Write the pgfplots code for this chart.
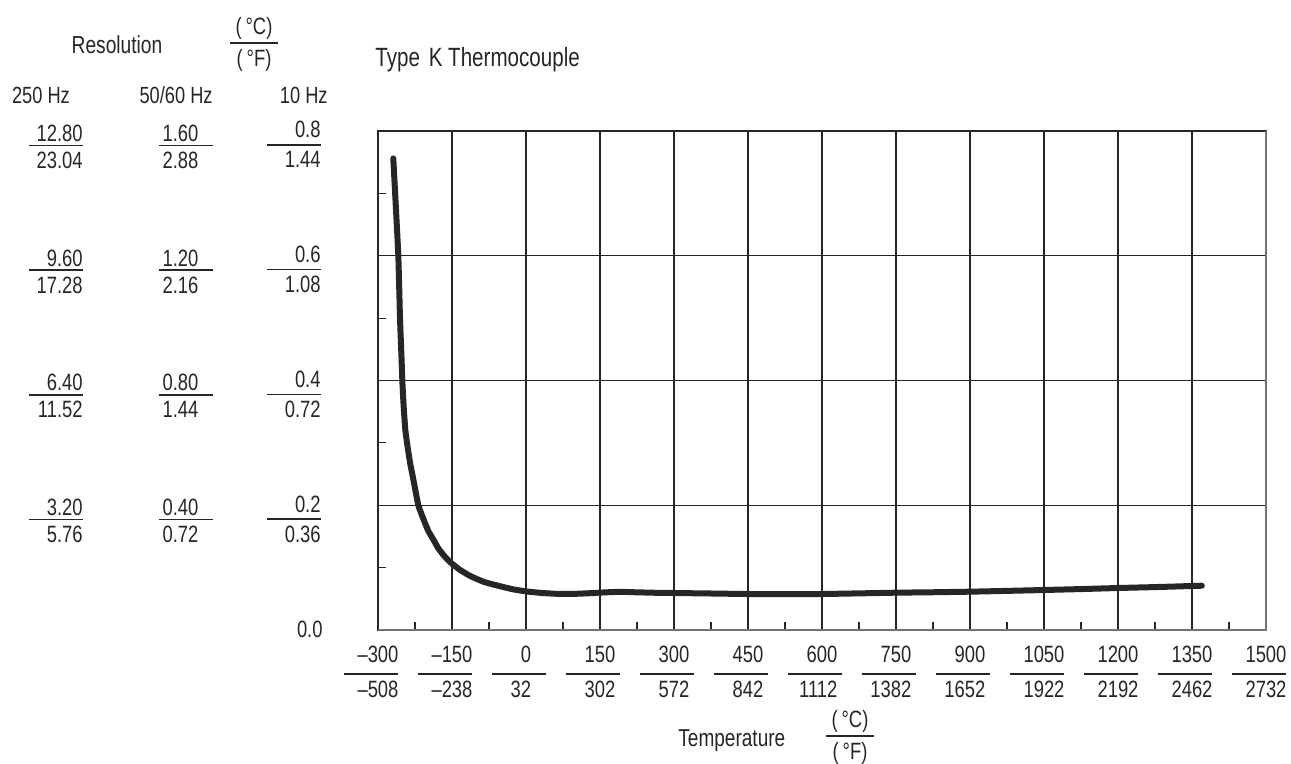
\documentclass[border=0pt]{standalone}
\usepackage{pgfplots}
\pgfplotsset{compat=1.18}
\usepackage{fontspec}
\setmainfont{Liberation Sans}[FakeStretch=0.78]
\definecolor{ink}{HTML}{262626}
% x tick label: numerator centred on tick, denominator right-aligned to it, rule shifted left
\newcommand\XF[2]{\setbox0\hbox{#1}\vtop{\offinterlineskip\hbox to 27pt{\hss\copy0\hss}\kern5pt\moveleft3.5pt\vbox{\hrule width27pt height0.7pt}\kern3pt\hbox to 27pt{\hss\hbox to\wd0{\hss #2}\hss}}}
\newcommand\YR[3]{\vtop{\offinterlineskip\hbox to 27pt{\hss#2}\kern#1\hrule height0.7pt\kern3pt\hbox to 27pt{\hss#3}}}
\newcommand\YL[2]{\vtop{\offinterlineskip\hbox to 27pt{\hskip2pt#1\hss}\kern1.5pt\hrule height0.7pt\kern3pt\hbox to 27pt{\hskip2pt#2\hss}}}
\newcommand\HF[2]{\vtop{\offinterlineskip\hbox to 24pt{\hss#1\hss}\kern1.2pt\hrule height0.7pt\kern3pt\hbox to 24pt{\hss#2\hss}}}
\newcommand\fxt{\fontsize{11.8}{14}\selectfont}
\newcommand\fyl{\fontsize{11.8}{14}\selectfont}
\newcommand\fhd{\fontsize{11.7}{14}\selectfont}
\begin{document}
\begin{tikzpicture}[every node/.style={text=ink}]
\useasboundingbox (0,0) rectangle (645.5pt,382pt);
\begin{axis}[
  at={(189pt,67pt)}, anchor=south west,
  width=444pt, height=249.5pt, scale only axis,
  xmin=-300, xmax=1500, ymin=0, ymax=0.8,
  xtick={-300,-150,...,1500},
  minor xtick={-225,-75,...,1425},
  ytick={0,0.2,0.4,0.6,0.8},
  minor ytick={0.1,0.3,0.5,0.7},
  yticklabel=\empty,
  xticklabels={{\XF{--300}{--508}},{\XF{--150}{--238}},{\XF{0}{32}},{\XF{150}{302}},{\XF{300}{572}},{\XF{450}{842}},{\XF{600}{1112}},{\XF{750}{1382}},{\XF{900}{1652}},{\XF{1050}{1922}},{\XF{1200}{2192}},{\XF{1350}{2462}},{\XF{1500}{2732}}},
  xticklabel style={anchor=base, inner sep=0pt, yshift=-16.5pt, font=\fxt},
  grid=major,
  major grid style={line width=0.6pt, draw=ink},
  tick align=inside, tick pos=left,
  major tick length=0pt, minor tick length=4pt,
  every tick/.style={line width=0.6pt, draw=ink},
  axis line style={line width=0.7pt, draw=ink},
  clip=false,
]
\addplot[ink, line width=3pt, line cap=round, line join=round, smooth, tension=0.3] coordinates {
(-269,0.756) (-264.2,0.684) (-258.8,0.600) (-255.4,0.500) (-252.5,0.44)
(-250.7,0.400) (-248.8,0.37) (-247.3,0.350) (-244.5,0.320) (-240.6,0.297)
(-235,0.268) (-228.4,0.2416) (-218.2,0.200) (-208,0.178) (-198,0.1587)
(-187,0.144) (-177.8,0.131) (-166,0.119) (-154,0.109) (-135,0.097)
(-113.5,0.0868) (-85,0.077) (-52.7,0.0702) (-25,0.065) (0,0.0619)
(30,0.0595) (62,0.058) (100,0.058) (130,0.0590) (160,0.0603) (190,0.0612)
(220,0.0605) (260,0.0597) (300,0.0593) (375,0.0585) (450,0.0577)
(525,0.0576) (600,0.0577) (675,0.0587) (750,0.0598) (825,0.0605)
(900,0.0614) (975,0.0627) (1050,0.0641) (1125,0.0656) (1200,0.0673)
(1285,0.069) (1370,0.071)
};
\draw[black!55, line width=1pt] (rel axis cs:0,0) -- (rel axis cs:1,0) -- (rel axis cs:1,1);
% 250 Hz column
\node[anchor=base east, inner sep=0pt, font=\fyl] at ([xshift=-147.5pt,yshift=-5.2pt]axis cs:-300,0.8) {\YR{1.5pt}{12.80}{23.04}};
\node[anchor=base east, inner sep=0pt, font=\fyl] at ([xshift=-147.5pt,yshift=-5.2pt]axis cs:-300,0.6) {\YR{1.5pt}{9.60}{17.28}};
\node[anchor=base east, inner sep=0pt, font=\fyl] at ([xshift=-147.5pt,yshift=-5.2pt]axis cs:-300,0.4) {\YR{1.5pt}{6.40}{11.52}};
\node[anchor=base east, inner sep=0pt, font=\fyl] at ([xshift=-147.5pt,yshift=-5.2pt]axis cs:-300,0.2) {\YR{1.5pt}{3.20}{5.76}};
% 50/60 Hz column
\node[anchor=base east, inner sep=0pt, font=\fyl] at ([xshift=-82.5pt,yshift=-5.2pt]axis cs:-300,0.8) {\YL{1.60}{2.88}};
\node[anchor=base east, inner sep=0pt, font=\fyl] at ([xshift=-82.5pt,yshift=-5.2pt]axis cs:-300,0.6) {\YL{1.20}{2.16}};
\node[anchor=base east, inner sep=0pt, font=\fyl] at ([xshift=-82.5pt,yshift=-5.2pt]axis cs:-300,0.4) {\YL{0.80}{1.44}};
\node[anchor=base east, inner sep=0pt, font=\fyl] at ([xshift=-82.5pt,yshift=-5.2pt]axis cs:-300,0.2) {\YL{0.40}{0.72}};
% 10 Hz column
\node[anchor=base east, inner sep=0pt, font=\fyl] at ([xshift=-28.5pt,yshift=-3.5pt]axis cs:-300,0.8) {\YR{3pt}{0.8}{1.44}};
\node[anchor=base east, inner sep=0pt, font=\fyl] at ([xshift=-28.5pt,yshift=-3.5pt]axis cs:-300,0.6) {\YR{3pt}{0.6}{1.08}};
\node[anchor=base east, inner sep=0pt, font=\fyl] at ([xshift=-28.5pt,yshift=-3.5pt]axis cs:-300,0.4) {\YR{3pt}{0.4}{0.72}};
\node[anchor=base east, inner sep=0pt, font=\fyl] at ([xshift=-28.5pt,yshift=-3.5pt]axis cs:-300,0.2) {\YR{3pt}{0.2}{0.36}};
\node[anchor=base east, inner sep=0pt, font=\fyl] at ([xshift=-27.5pt,yshift=-4pt]axis cs:-300,0) {0.0};
\end{axis}
% headers
\node[anchor=base, inner sep=0pt, font=\fontsize{12.3}{14}\selectfont] at (58.5pt,355.3pt) {Resolution};
\node[anchor=base, inner sep=0pt, font=\fyl] at (127pt,364.5pt) {\HF{(\,°C)}{(\,°F)}};
\node[anchor=base west, inner sep=0pt, font=\fhd] at (5.8pt,330pt) {250 Hz};
\node[anchor=base east, inner sep=0pt, font=\fhd] at (106.5pt,330pt) {50/60 Hz};
\node[anchor=base east, inner sep=0pt, font=\fhd] at (164pt,330pt) {10 Hz};
\node[anchor=base west, inner sep=0pt, font=\fontsize{13.2}{15}\selectfont] at (187.5pt,348.7pt) {Type\hspace{1.5pt} K Thermocouple};
\node[anchor=base west, inner sep=0pt, font=\fontsize{12.2}{14}\selectfont] at (339pt,8.65pt) {Temperature};
\node[anchor=base, inner sep=0pt, font=\fyl] at (425pt,18pt) {\HF{(\,°C)}{(\,°F)}};
\end{tikzpicture}
\end{document}
